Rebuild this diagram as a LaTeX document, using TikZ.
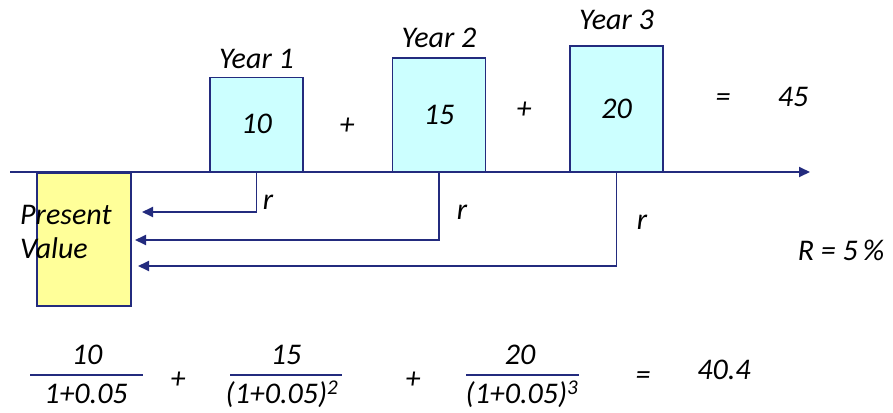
\documentclass[tikz,border=0pt]{standalone}
\usepackage{fontspec}
\setmainfont{Carlito}
\usetikzlibrary{arrows.meta,positioning}
\definecolor{navy}{HTML}{232B7E}
\definecolor{pvfill}{HTML}{FFFF99}
\definecolor{cfill}{HTML}{CCFFFF}

\begin{document}
\begin{tikzpicture}[x=1pt,y=-1pt,
  txt/.style={font=\fontsize{30}{34}\selectfont\itshape,inner sep=0pt},
  yearbox/.style={draw=navy,line width=1.5pt,fill=cfill,minimum width=93pt,
                  anchor=south,txt},
  arr/.style={-{Triangle[length=11pt,width=10pt]},line width=1.8pt,draw=navy},
  bar/.style={line width=1.8pt,draw=navy}
]
\useasboundingbox (0,0) rectangle (893,412);
% time line
\coordinate (t0) at (10,172);
\coordinate (t1) at (810,172);
\draw[arr] (t0) -- (t1);
% present value
\node[draw=navy,line width=1.5pt,fill=pvfill,minimum width=94pt,minimum height=133pt,
      anchor=north west] (pv) at (36,172) {};
\node[txt,align=left,anchor=west] (pvtext) at (20,232) {Present\\Value};
% cash flows
\node[yearbox,minimum height=94pt] (y1) at (256.5,172) {10};
\node[yearbox,minimum height=113pt] (y2) at (439,172) {15};
\node[yearbox,minimum height=125pt] (y3) at (616.5,172) {20};
\node[txt,above=8pt of y1] (l1) {Year 1};
\node[txt,above=10pt of y2] (l2) {Year 2};
\node[txt,above=16pt of y3] (l3) {Year 3};
\node[txt] (p1) at (347,126) {+};
\node[txt] (p2) at (524,110) {+};
\node[txt] (eq1) at (723,100) {=};
\node[txt] (sum) at (793,97) {45};
% discounting
\coordinate (a1) at (142,212);
\coordinate (a2) at (135,240);
\coordinate (a3) at (138,266);
\draw[arr] (y1.south) |- (a1);
\draw[arr] (y2.south) |- (a2);
\draw[arr] (y3.south) |- (a3);
\node[txt] (r1) at (268,202) {r};
\node[txt] (r2) at (462,212) {r};
\node[txt] (r3) at (642,222) {r};
\node[txt] (rate) at (841,250) {R = 5\,\%};
% formula
\node[txt] (n1) at (87,355) {10};
\draw[bar] (30,375) -- (143,375);
\node[txt] (d1) at (86,394) {1+0.05};
\node[txt] (p3) at (178,380) {+};
\node[txt] (n2) at (286,355) {15};
\draw[bar] (230,375) -- (342,375);
\node[txt] (d2) at (282,394) {(1+0.05)\textsuperscript{2}};
\node[txt] (p4) at (413,380) {+};
\node[txt] (n3) at (520,355) {20};
\draw[bar] (466,375) -- (579,375);
\node[txt] (d3) at (522,394) {(1+0.05)\textsuperscript{3}};
\node[txt] (eq2) at (643,378) {=};
\node[txt] (pvres) at (724,370) {40.4};
\end{tikzpicture}
\end{document}
